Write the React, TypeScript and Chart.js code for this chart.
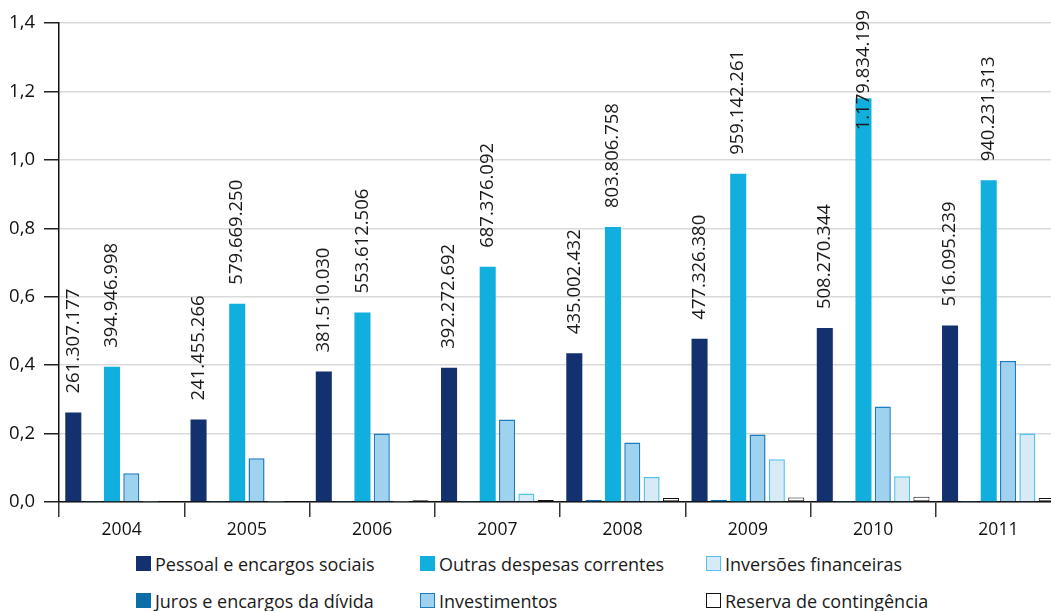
import React, { useEffect, useRef } from "react";
import { Chart, registerables } from "chart.js";

Chart.register(...registerables);

// Years on the category axis
const years = ["2004", "2005", "2006", "2007", "2008", "2009", "2010", "2011"];

// Spending by group, in R$
const pessoal = [261307177, 241455266, 381510030, 392272692, 435002432, 477326380, 508270344, 516095239];
const juros = [1500000, 1500000, 1500000, 1500000, 6000000, 6000000, 1500000, 1500000];
const outras = [394946998, 579669250, 553612506, 687376092, 803806758, 959142261, 1179834199, 940231313];
const investimentos = [84000000, 128000000, 200000000, 241000000, 174000000, 197000000, 279000000, 412000000];
const inversoes = [1000000, 1000000, 1000000, 25000000, 73000000, 125000000, 75000000, 200000000];
const reserva = [0, 3000000, 5000000, 6000000, 12000000, 13000000, 15000000, 12000000];

// Value axis, in R$ billions
const yMin = 0;
const yMax = 1.4;
const yStep = 0.2;

const FONT = '"Open Sans", "Noto Sans", sans-serif';

type Series = {
  label: string;
  values: number[];
  fill: string;
  border: string;
  borderWidth: number;
  showValues: boolean;
};

const series: Series[] = [
  { label: "Pessoal e encargos sociais", values: pessoal, fill: "#13306f", border: "#13306f", borderWidth: 0, showValues: true },
  { label: "Juros e encargos da dívida", values: juros, fill: "#0b6ea9", border: "#0b5f8f", borderWidth: 0, showValues: false },
  { label: "Outras despesas correntes", values: outras, fill: "#11afde", border: "#11afde", borderWidth: 0, showValues: true },
  { label: "Investimentos", values: investimentos, fill: "#9ed2ef", border: "#1b7cbf", borderWidth: 1.5, showValues: false },
  { label: "Inversões financeiras", values: inversoes, fill: "#d8eaf6", border: "#52c4ec", borderWidth: 1.5, showValues: false },
  { label: "Reserva de contingência", values: reserva, fill: "#ffffff", border: "#111111", borderWidth: 1, showValues: false },
];

function formatReais(v: number): string {
  const s = Math.round(v).toString();
  return s.replace(/\B(?=(\d{3})+(?!\d))/g, ".");
}

const valueLabels = {
  id: "valueLabels",
  afterDatasetsDraw(chart: any) {
    const ctx = chart.ctx;
    ctx.save();
    ctx.font = `18.5px ${FONT}`;
    ctx.fillStyle = "#1a1a1a";
    ctx.textAlign = "left";
    ctx.textBaseline = "middle";
    series.forEach((s, di) => {
      if (!s.showValues) return;
      const meta = chart.getDatasetMeta(di);
      meta.data.forEach((bar: any, i: number) => {
        const text = formatReais(s.values[i]);
        const w = ctx.measureText(text).width;
        let start = bar.y - 19;
        if (start - w < 10) start = 10 + w;
        ctx.save();
        ctx.translate(bar.x, start);
        ctx.rotate(-Math.PI / 2);
        ctx.fillText(text, 0, 0);
        ctx.restore();
      });
    });
    ctx.restore();
  },
};

// Legend: two rows, filled column by column
function Legend() {
  return (
    <div
      style={{
        position: "absolute",
        left: 136,
        top: 545,
        display: "grid",
        gridTemplateColumns: "284px 286px 320px",
        gridTemplateRows: "37px 37px",
        gridAutoFlow: "column",
        fontFamily: FONT,
        fontSize: 18,
        color: "#1a1a1a",
      }}
    >
      {series.map((s) => (
        <div key={s.label} style={{ display: "flex", alignItems: "center", whiteSpace: "nowrap" }}>
          <span
            style={{
              display: "inline-block",
              boxSizing: "border-box",
              width: 15,
              height: 15,
              background: s.fill,
              border: s.borderWidth ? `1.5px solid ${s.border}` : "none",
              marginRight: 4,
            }}
          />
          <span>{s.label}</span>
        </div>
      ))}
    </div>
  );
}

export default function App() {
  const canvasRef = useRef<HTMLCanvasElement | null>(null);

  useEffect(() => {
    if (!canvasRef.current) return;
    const chart = new Chart(canvasRef.current, {
      type: "bar",
      data: {
        labels: years,
        datasets: series.map((s) => ({
          label: s.label,
          data: s.values.map((v) => v / 1e9),
          backgroundColor: s.fill,
          borderColor: s.border,
          borderWidth: s.borderWidth,
          borderSkipped: s.label.startsWith("Reserva") ? false : "start",
          categoryPercentage: 0.926,
          barPercentage: 0.83,
        })),
      },
      options: {
        animation: false,
        responsive: false,
        maintainAspectRatio: false,
        layout: { padding: { top: 23, left: 0, right: 0, bottom: 0 } },
        plugins: {
          legend: { display: false },
          tooltip: { enabled: false },
        },
        scales: {
          x: {
            type: "category",
            grid: {
              display: true,
              drawOnChartArea: false,
              drawTicks: true,
              tickLength: 15,
              tickColor: "#333",
              lineWidth: 1.5,
              offset: true,
            },
            border: { display: true, color: "#111", width: 1.5 },
            ticks: {
              color: "#111",
              font: { family: FONT, size: 17.5 },
              padding: 3,
              maxRotation: 0,
            },
            afterFit: (s: any) => {
              s.height = 43;
            },
          },
          y: {
            min: yMin,
            max: yMax,
            grid: {
              color: "#d9d9d9",
              lineWidth: 1.5,
              tickColor: "#222",
              tickLength: 15,
            },
            border: { display: true, color: "#111", width: 1.5 },
            ticks: {
              stepSize: yStep,
              color: "#111",
              font: { family: FONT, size: 18.5 },
              padding: 9,
              callback: (v: any) => Number(v).toFixed(1).replace(".", ","),
            },
            afterFit: (s: any) => {
              s.width = 59;
            },
          },
        },
      },
      plugins: [valueLabels],
    });
    return () => chart.destroy();
  }, []);

  return (
    <div
      style={{
        position: "fixed",
        left: 0,
        top: 0,
        width: 1051,
        height: 611,
        overflow: "hidden",
        background: "#ffffff",
      }}
    >
      <canvas
        ref={canvasRef}
        width={1061}
        height={545}
        style={{ position: "absolute", left: 0, top: 0, width: 1061, height: 545 }}
      />
      <Legend />
    </div>
  );
}
